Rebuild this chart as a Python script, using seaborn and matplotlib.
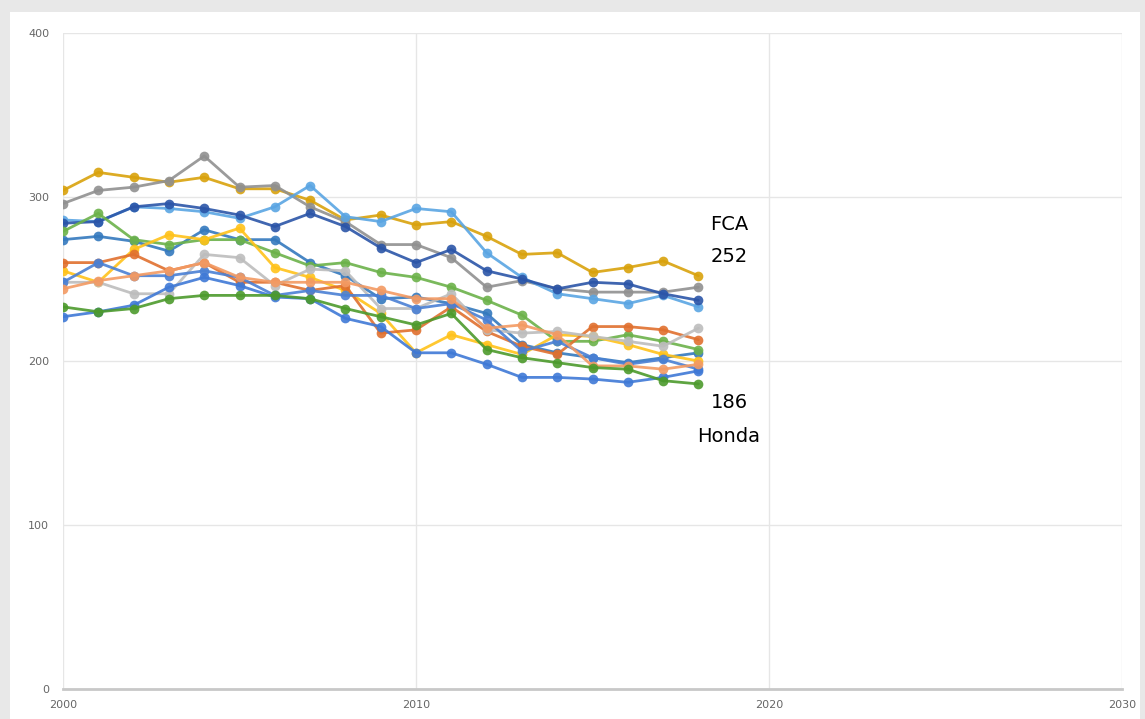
import numpy as np
import pandas as pd
import matplotlib
matplotlib.use("Agg")
import matplotlib.pyplot as plt
import seaborn as sns

years = list(range(2000, 2019))

# CO2 g/mi per manufacturer
fca     = [304, 315, 312, 309, 312, 305, 305, 298, 286, 289, 283, 285, 276, 265, 266, 254, 257, 261, 252]
gm      = [296, 304, 306, 310, 325, 306, 307, 294, 285, 271, 271, 263, 245, 249, 244, 242, 242, 242, 245]
ford    = [286, 285, 294, 293, 291, 287, 294, 307, 288, 285, 293, 291, 266, 251, 241, 238, 235, 240, 233]
toyota  = [284, 285, 294, 296, 293, 289, 282, 290, 282, 269, 260, 268, 255, 250, 244, 248, 247, 241, 237]
nissan  = [274, 276, 273, 267, 280, 274, 274, 260, 252, 238, 239, 235, 229, 210, 205, 202, 199, 202, 205]
subaru  = [279, 290, 274, 271, 274, 274, 266, 258, 260, 254, 251, 245, 237, 228, 212, 212, 216, 212, 207]
kia     = [255, 248, 268, 277, 274, 281, 257, 251, 243, 229, 205, 216, 210, 204, 216, 215, 210, 204, 200]
bmw     = [260, 260, 265, 255, 260, 248, 248, 243, 246, 217, 219, 233, 218, 209, 204, 221, 221, 219, 213]
vw      = [248, 248, 241, 241, 265, 263, 246, 256, 255, 232, 232, 241, 219, 217, 218, 215, 212, 209, 220]
mazda   = [248, 260, 252, 252, 255, 251, 240, 243, 240, 240, 232, 235, 225, 206, 212, 202, 198, 201, 195]
hyundai = [227, 230, 234, 245, 251, 246, 239, 238, 226, 221, 205, 205, 198, 190, 190, 189, 187, 190, 194]
mb      = [244, 249, 252, 255, 260, 251, 248, 248, 248, 243, 238, 238, 220, 222, 216, 197, 197, 195, 198]
honda   = [233, 230, 232, 238, 240, 240, 240, 238, 232, 227, 222, 229, 207, 202, 199, 196, 195, 188, 186]

series = {
    "FCA": fca, "GM": gm, "Ford": ford, "Toyota": toyota, "Nissan": nissan,
    "Subaru": subaru, "Kia": kia, "BMW": bmw, "VW": vw, "Mazda": mazda,
    "Hyundai": hyundai, "Mercedes": mb, "Honda": honda,
}
colors = {
    "FCA": "#D9A20C", "GM": "#909090", "Ford": "#5AA5E3", "Toyota": "#2B55A8",
    "Nissan": "#3479BE", "Subaru": "#6CB24A", "Kia": "#FFC21A", "BMW": "#E0702E",
    "VW": "#BDBDBD", "Mazda": "#4A80D4", "Hyundai": "#3F79D6", "Mercedes": "#F39A63",
    "Honda": "#4C9A2C",
}

rows = []
for name, vals in series.items():
    for y, v in zip(years, vals):
        rows.append({"year": y, "co2": v, "maker": name})
df = pd.DataFrame(rows)

sns.set_style("white")
fig = plt.figure(figsize=(11.45, 7.19), dpi=100)
fig.patch.set_facecolor("#E8E8E8")
panel = plt.Rectangle((10 / 1145, 0), 1 - 15 / 1145, 1 - 12 / 719,
                      transform=fig.transFigure, facecolor="white",
                      edgecolor="none", zorder=-10)
fig.patches.append(panel)
ax = fig.add_axes([63 / 1145, 30 / 719, (1122 - 63) / 1145, (689 - 33) / 719])
ax.set_facecolor("white")
ax.set_zorder(1)

sns.lineplot(data=df, x="year", y="co2", hue="maker", palette=colors,
             marker="o", markersize=7, markeredgewidth=0, linewidth=2,
             alpha=0.9, legend=False, ax=ax)

ax.set_xlim(2000, 2030)
ax.set_ylim(0, 400)
ax.set_xticks([2000, 2010, 2020, 2030])
ax.set_yticks([0, 100, 200, 300, 400])
ax.grid(True, color="#E6E6E6", linewidth=1)
ax.set_axisbelow(True)
for s in ["top", "right", "left"]:
    ax.spines[s].set_visible(False)
ax.spines["bottom"].set_color("#C8C8C8")
ax.spines["bottom"].set_linewidth(2)
ax.tick_params(axis="both", length=0, labelsize=8, labelcolor="#666666")
ax.tick_params(axis="y", pad=10)
ax.tick_params(axis="x", pad=8)
ax.set_xlabel("")
ax.set_ylabel("")

lbl = dict(ha="center", va="center", fontsize=14, color="black")
ax.text(2018.87, 283, "FCA", **lbl)
ax.text(2018.87, 264, "252", **lbl)
ax.text(2018.87, 175, "186", **lbl)
ax.text(2018.87, 154, "Honda", **lbl)

fig.savefig("out.png", dpi=100)
